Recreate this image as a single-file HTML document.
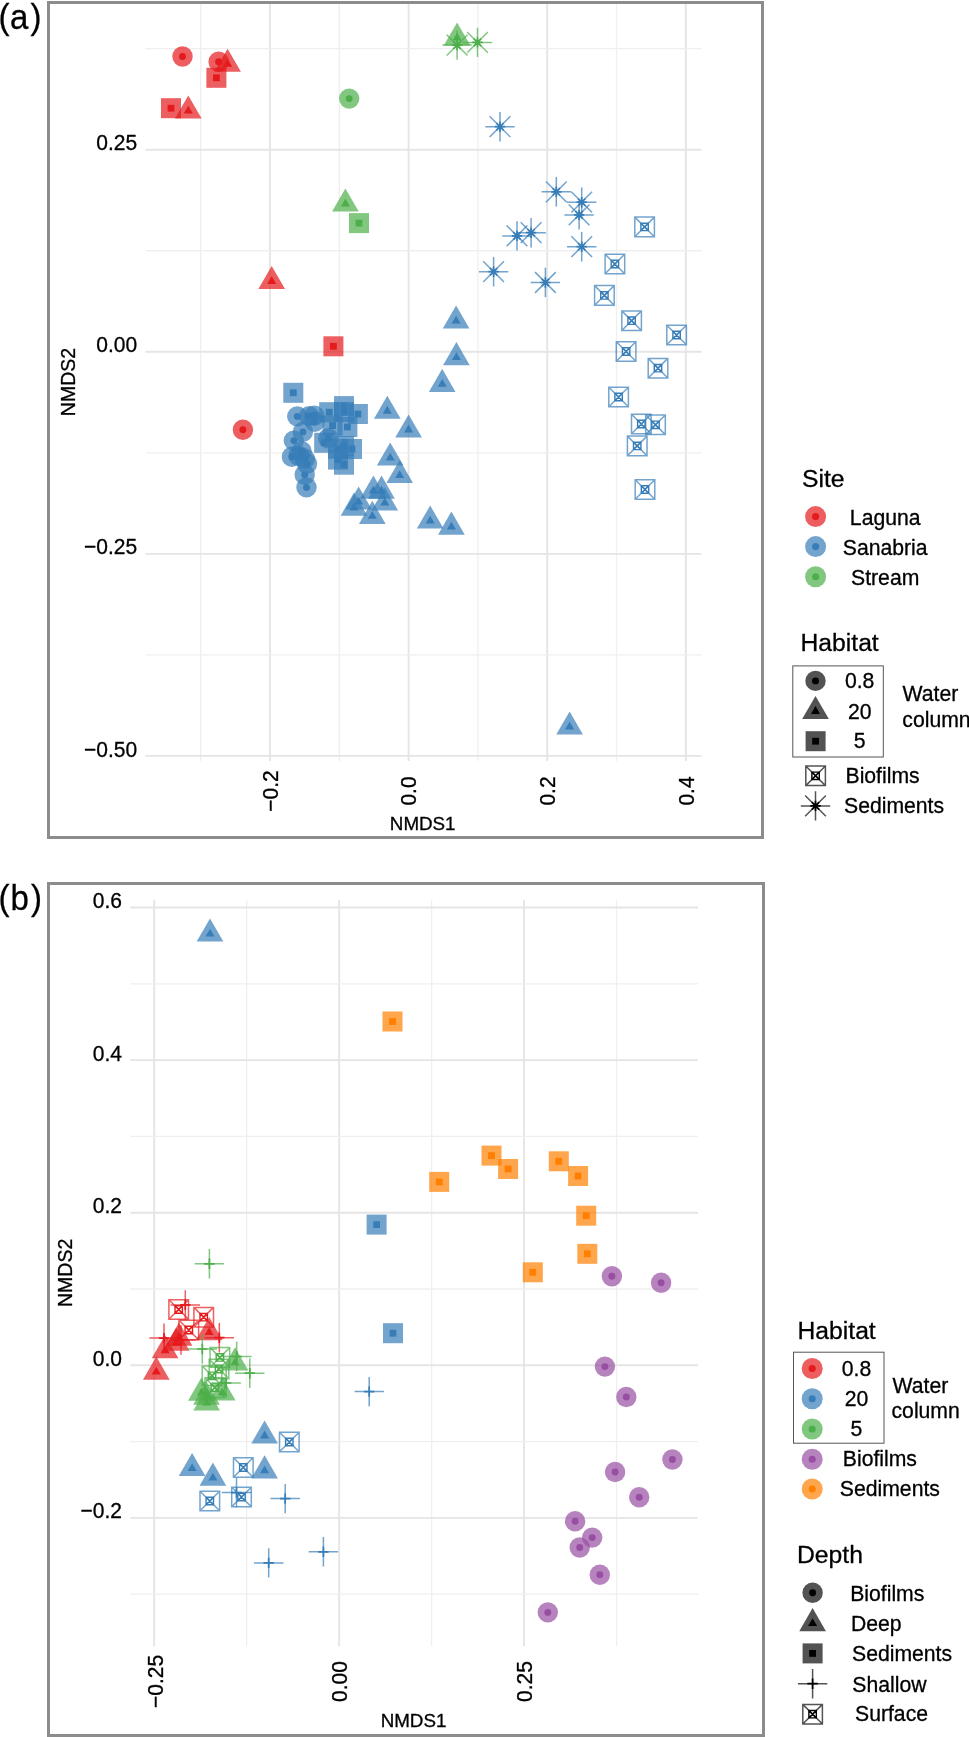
<!DOCTYPE html>
<html><head><meta charset="utf-8"><title>NMDS</title>
<style>html,body{margin:0;padding:0;background:#fff;overflow:hidden;}svg{display:block;will-change:transform;}</style>
</head><body>
<svg width="969" height="1737" viewBox="0 0 969 1737">
<rect width="969" height="1737" fill="#fff"/>
<g stroke="#ebebeb" stroke-width="1.6">
<line x1="200.7" y1="4" x2="200.7" y2="761" stroke="#efefef" stroke-width="1.3"/>
<line x1="270" y1="4" x2="270" y2="761" stroke="#e5e5e5" stroke-width="1.9"/>
<line x1="339.3" y1="4" x2="339.3" y2="761" stroke="#efefef" stroke-width="1.3"/>
<line x1="408.6" y1="4" x2="408.6" y2="761" stroke="#e5e5e5" stroke-width="1.9"/>
<line x1="477.9" y1="4" x2="477.9" y2="761" stroke="#efefef" stroke-width="1.3"/>
<line x1="547.2" y1="4" x2="547.2" y2="761" stroke="#e5e5e5" stroke-width="1.9"/>
<line x1="616.5" y1="4" x2="616.5" y2="761" stroke="#efefef" stroke-width="1.3"/>
<line x1="685.8" y1="4" x2="685.8" y2="761" stroke="#e5e5e5" stroke-width="1.9"/>
<line x1="145.5" y1="48.7" x2="701.5" y2="48.7" stroke="#efefef" stroke-width="1.3"/>
<line x1="145.5" y1="149.73" x2="701.5" y2="149.73" stroke="#e5e5e5" stroke-width="1.9"/>
<line x1="145.5" y1="250.76" x2="701.5" y2="250.76" stroke="#efefef" stroke-width="1.3"/>
<line x1="145.5" y1="351.79" x2="701.5" y2="351.79" stroke="#e5e5e5" stroke-width="1.9"/>
<line x1="145.5" y1="452.82" x2="701.5" y2="452.82" stroke="#efefef" stroke-width="1.3"/>
<line x1="145.5" y1="553.85" x2="701.5" y2="553.85" stroke="#e5e5e5" stroke-width="1.9"/>
<line x1="145.5" y1="654.88" x2="701.5" y2="654.88" stroke="#efefef" stroke-width="1.3"/>
<line x1="145.5" y1="755.91" x2="701.5" y2="755.91" stroke="#e5e5e5" stroke-width="1.9"/>
<line x1="154.2" y1="900" x2="154.2" y2="1646.2" stroke="#e5e5e5" stroke-width="1.9"/>
<line x1="246.67" y1="900" x2="246.67" y2="1646.2" stroke="#efefef" stroke-width="1.3"/>
<line x1="339.14" y1="900" x2="339.14" y2="1646.2" stroke="#e5e5e5" stroke-width="1.9"/>
<line x1="431.61" y1="900" x2="431.61" y2="1646.2" stroke="#efefef" stroke-width="1.3"/>
<line x1="524.08" y1="900" x2="524.08" y2="1646.2" stroke="#e5e5e5" stroke-width="1.9"/>
<line x1="616.55" y1="900" x2="616.55" y2="1646.2" stroke="#efefef" stroke-width="1.3"/>
<line x1="130.3" y1="907.5" x2="698" y2="907.5" stroke="#e5e5e5" stroke-width="1.9"/>
<line x1="130.3" y1="983.8" x2="698" y2="983.8" stroke="#efefef" stroke-width="1.3"/>
<line x1="130.3" y1="1060.1" x2="698" y2="1060.1" stroke="#e5e5e5" stroke-width="1.9"/>
<line x1="130.3" y1="1136.4" x2="698" y2="1136.4" stroke="#efefef" stroke-width="1.3"/>
<line x1="130.3" y1="1212.7" x2="698" y2="1212.7" stroke="#e5e5e5" stroke-width="1.9"/>
<line x1="130.3" y1="1289" x2="698" y2="1289" stroke="#efefef" stroke-width="1.3"/>
<line x1="130.3" y1="1365.3" x2="698" y2="1365.3" stroke="#e5e5e5" stroke-width="1.9"/>
<line x1="130.3" y1="1441.6" x2="698" y2="1441.6" stroke="#efefef" stroke-width="1.3"/>
<line x1="130.3" y1="1517.9" x2="698" y2="1517.9" stroke="#e5e5e5" stroke-width="1.9"/>
<line x1="130.3" y1="1594.2" x2="698" y2="1594.2" stroke="#efefef" stroke-width="1.3"/>
</g>
<g>
<circle cx="182.5" cy="56.5" r="10.2" fill="#E41A1C" fill-opacity="0.7"/>
<circle cx="218.6" cy="61.7" r="10.2" fill="#E41A1C" fill-opacity="0.7"/>
<polygon points="227.6,48.7 240.94,71.8 214.26,71.8" fill="#E41A1C" fill-opacity="0.7"/>
<rect x="206.4" y="67.8" width="20" height="20" fill="#E41A1C" fill-opacity="0.7"/>
<rect x="161" y="98.2" width="20" height="20" fill="#E41A1C" fill-opacity="0.7"/>
<polygon points="188.3,95.5 201.64,118.6 174.96,118.6" fill="#E41A1C" fill-opacity="0.7"/>
<polygon points="271.7,266 285.04,289.1 258.36,289.1" fill="#E41A1C" fill-opacity="0.7"/>
<rect x="323.4" y="336.3" width="20" height="20" fill="#E41A1C" fill-opacity="0.7"/>
<circle cx="242.9" cy="429.7" r="10.2" fill="#E41A1C" fill-opacity="0.7"/>
<polygon points="457.1,22.5 470.44,45.6 443.76,45.6" fill="#4DAF4A" fill-opacity="0.7"/>
<path d="M442.4 45.1H471.8M457.1 30.4V59.8M446.71 34.71L467.49 55.49M446.71 55.49L467.49 34.71" fill="none" stroke="#4DAF4A" stroke-width="1.5" stroke-opacity="0.7"/>
<path d="M462.8 42.4H492.2M477.5 27.7V57.1M467.11 32.01L487.89 52.79M467.11 52.79L487.89 32.01" fill="none" stroke="#4DAF4A" stroke-width="1.5" stroke-opacity="0.7"/>
<circle cx="349.2" cy="98.6" r="10.2" fill="#4DAF4A" fill-opacity="0.7"/>
<polygon points="345.4,188.4 358.74,211.5 332.06,211.5" fill="#4DAF4A" fill-opacity="0.7"/>
<rect x="349" y="213.1" width="20" height="20" fill="#4DAF4A" fill-opacity="0.7"/>
<circle cx="297.3" cy="416.4" r="10.2" fill="#377EB8" fill-opacity="0.7"/>
<circle cx="309.1" cy="416.1" r="10.2" fill="#377EB8" fill-opacity="0.7"/>
<circle cx="314.4" cy="415.8" r="10.2" fill="#377EB8" fill-opacity="0.7"/>
<circle cx="314.7" cy="421.8" r="10.2" fill="#377EB8" fill-opacity="0.7"/>
<circle cx="302.9" cy="431.9" r="10.2" fill="#377EB8" fill-opacity="0.7"/>
<circle cx="293.8" cy="440.6" r="10.2" fill="#377EB8" fill-opacity="0.7"/>
<circle cx="291.9" cy="456.8" r="10.2" fill="#377EB8" fill-opacity="0.7"/>
<circle cx="301.6" cy="451.2" r="10.2" fill="#377EB8" fill-opacity="0.7"/>
<circle cx="304.8" cy="458.8" r="10.2" fill="#377EB8" fill-opacity="0.7"/>
<circle cx="307" cy="463.8" r="10.2" fill="#377EB8" fill-opacity="0.7"/>
<circle cx="298.6" cy="455.7" r="10.2" fill="#377EB8" fill-opacity="0.7"/>
<circle cx="304.7" cy="474.8" r="10.2" fill="#377EB8" fill-opacity="0.7"/>
<circle cx="306.5" cy="487.4" r="10.2" fill="#377EB8" fill-opacity="0.7"/>
<circle cx="328.3" cy="438.3" r="10.2" fill="#377EB8" fill-opacity="0.7"/>
<rect x="283.3" y="382.8" width="20" height="20" fill="#377EB8" fill-opacity="0.7"/>
<rect x="319.2" y="402.2" width="20" height="20" fill="#377EB8" fill-opacity="0.7"/>
<rect x="334" y="396.1" width="20" height="20" fill="#377EB8" fill-opacity="0.7"/>
<rect x="347.9" y="404" width="20" height="20" fill="#377EB8" fill-opacity="0.7"/>
<rect x="334" y="402" width="20" height="20" fill="#377EB8" fill-opacity="0.7"/>
<rect x="337.4" y="417" width="20" height="20" fill="#377EB8" fill-opacity="0.7"/>
<rect x="322.6" y="415.6" width="20" height="20" fill="#377EB8" fill-opacity="0.7"/>
<rect x="314.2" y="432.8" width="20" height="20" fill="#377EB8" fill-opacity="0.7"/>
<rect x="328" y="438.8" width="20" height="20" fill="#377EB8" fill-opacity="0.7"/>
<rect x="334" y="436" width="20" height="20" fill="#377EB8" fill-opacity="0.7"/>
<rect x="342" y="439" width="20" height="20" fill="#377EB8" fill-opacity="0.7"/>
<rect x="328" y="449.6" width="20" height="20" fill="#377EB8" fill-opacity="0.7"/>
<rect x="334" y="454.7" width="20" height="20" fill="#377EB8" fill-opacity="0.7"/>
<polygon points="387.3,395.7 400.64,418.8 373.96,418.8" fill="#377EB8" fill-opacity="0.7"/>
<polygon points="408.6,414.4 421.94,437.5 395.26,437.5" fill="#377EB8" fill-opacity="0.7"/>
<polygon points="456.1,305.5 469.44,328.6 442.76,328.6" fill="#377EB8" fill-opacity="0.7"/>
<polygon points="456.4,342.1 469.74,365.2 443.06,365.2" fill="#377EB8" fill-opacity="0.7"/>
<polygon points="442.2,368.8 455.54,391.9 428.86,391.9" fill="#377EB8" fill-opacity="0.7"/>
<polygon points="390.2,442.5 403.54,465.6 376.86,465.6" fill="#377EB8" fill-opacity="0.7"/>
<polygon points="399.7,460 413.04,483.1 386.36,483.1" fill="#377EB8" fill-opacity="0.7"/>
<polygon points="373.4,475.6 386.74,498.7 360.06,498.7" fill="#377EB8" fill-opacity="0.7"/>
<polygon points="381.5,475.6 394.84,498.7 368.16,498.7" fill="#377EB8" fill-opacity="0.7"/>
<polygon points="358.6,486.5 371.94,509.6 345.26,509.6" fill="#377EB8" fill-opacity="0.7"/>
<polygon points="354,492.6 367.34,515.7 340.66,515.7" fill="#377EB8" fill-opacity="0.7"/>
<polygon points="372.3,500.8 385.64,523.9 358.96,523.9" fill="#377EB8" fill-opacity="0.7"/>
<polygon points="384.8,487.5 398.14,510.6 371.46,510.6" fill="#377EB8" fill-opacity="0.7"/>
<polygon points="430.2,505.5 443.54,528.6 416.86,528.6" fill="#377EB8" fill-opacity="0.7"/>
<polygon points="451.4,511.6 464.74,534.7 438.06,534.7" fill="#377EB8" fill-opacity="0.7"/>
<polygon points="569.6,711.5 582.94,734.6 556.26,734.6" fill="#377EB8" fill-opacity="0.7"/>
<path d="M485.3 126.7H514.7M500 112V141.4M489.61 116.31L510.39 137.09M489.61 137.09L510.39 116.31" fill="none" stroke="#377EB8" stroke-width="1.5" stroke-opacity="0.7"/>
<path d="M541.6 191.8H571M556.3 177.1V206.5M545.91 181.41L566.69 202.19M545.91 202.19L566.69 181.41" fill="none" stroke="#377EB8" stroke-width="1.5" stroke-opacity="0.7"/>
<path d="M567 202.2H596.4M581.7 187.5V216.9M571.31 191.81L592.09 212.59M571.31 212.59L592.09 191.81" fill="none" stroke="#377EB8" stroke-width="1.5" stroke-opacity="0.7"/>
<path d="M564.4 214.9H593.8M579.1 200.2V229.6M568.71 204.51L589.49 225.29M568.71 225.29L589.49 204.51" fill="none" stroke="#377EB8" stroke-width="1.5" stroke-opacity="0.7"/>
<path d="M502.3 235.9H531.7M517 221.2V250.6M506.61 225.51L527.39 246.29M506.61 246.29L527.39 225.51" fill="none" stroke="#377EB8" stroke-width="1.5" stroke-opacity="0.7"/>
<path d="M516.4 232.7H545.8M531.1 218V247.4M520.71 222.31L541.49 243.09M520.71 243.09L541.49 222.31" fill="none" stroke="#377EB8" stroke-width="1.5" stroke-opacity="0.7"/>
<path d="M567 246.7H596.4M581.7 232V261.4M571.31 236.31L592.09 257.09M571.31 257.09L592.09 236.31" fill="none" stroke="#377EB8" stroke-width="1.5" stroke-opacity="0.7"/>
<path d="M478.9 271.7H508.3M493.6 257V286.4M483.21 261.31L503.99 282.09M483.21 282.09L503.99 261.31" fill="none" stroke="#377EB8" stroke-width="1.5" stroke-opacity="0.7"/>
<path d="M530.7 282.5H560.1M545.4 267.8V297.2M535.01 272.11L555.79 292.89M535.01 292.89L555.79 272.11" fill="none" stroke="#377EB8" stroke-width="1.5" stroke-opacity="0.7"/>
<path d="M634.8 217.1H654.4V236.7H634.8ZM634.8 217.1L654.4 236.7M634.8 236.7L654.4 217.1" fill="none" stroke="#377EB8" stroke-width="1.5" stroke-opacity="0.7"/>
<path d="M605.1 254.2H624.7V273.8H605.1ZM605.1 254.2L624.7 273.8M605.1 273.8L624.7 254.2" fill="none" stroke="#377EB8" stroke-width="1.5" stroke-opacity="0.7"/>
<path d="M594.6 285.6H614.2V305.2H594.6ZM594.6 285.6L614.2 305.2M594.6 305.2L614.2 285.6" fill="none" stroke="#377EB8" stroke-width="1.5" stroke-opacity="0.7"/>
<path d="M621.8 310.9H641.4V330.5H621.8ZM621.8 310.9L641.4 330.5M621.8 330.5L641.4 310.9" fill="none" stroke="#377EB8" stroke-width="1.5" stroke-opacity="0.7"/>
<path d="M666.8 325.2H686.4V344.8H666.8ZM666.8 325.2L686.4 344.8M666.8 344.8L686.4 325.2" fill="none" stroke="#377EB8" stroke-width="1.5" stroke-opacity="0.7"/>
<path d="M616.3 341.7H635.9V361.3H616.3ZM616.3 341.7L635.9 361.3M616.3 361.3L635.9 341.7" fill="none" stroke="#377EB8" stroke-width="1.5" stroke-opacity="0.7"/>
<path d="M648.2 358.4H667.8V378H648.2ZM648.2 358.4L667.8 378M648.2 378L667.8 358.4" fill="none" stroke="#377EB8" stroke-width="1.5" stroke-opacity="0.7"/>
<path d="M608.8 387.2H628.4V406.8H608.8ZM608.8 387.2L628.4 406.8M608.8 406.8L628.4 387.2" fill="none" stroke="#377EB8" stroke-width="1.5" stroke-opacity="0.7"/>
<path d="M631.5 414.2H651.1V433.8H631.5ZM631.5 414.2L651.1 433.8M631.5 433.8L651.1 414.2" fill="none" stroke="#377EB8" stroke-width="1.5" stroke-opacity="0.7"/>
<path d="M645.7 415H665.3V434.6H645.7ZM645.7 415L665.3 434.6M645.7 434.6L665.3 415" fill="none" stroke="#377EB8" stroke-width="1.5" stroke-opacity="0.7"/>
<path d="M627.4 436.1H647V455.7H627.4ZM627.4 436.1L647 455.7M627.4 455.7L647 436.1" fill="none" stroke="#377EB8" stroke-width="1.5" stroke-opacity="0.7"/>
<path d="M635.2 479.7H654.8V499.3H635.2ZM635.2 479.7L654.8 499.3M635.2 499.3L654.8 479.7" fill="none" stroke="#377EB8" stroke-width="1.5" stroke-opacity="0.7"/>
<circle cx="182.5" cy="56.5" r="3.47" fill="#E41A1C"/>
<circle cx="218.6" cy="61.7" r="3.47" fill="#E41A1C"/>
<polygon points="227.6,58.86 232.13,66.72 223.07,66.72" fill="#E41A1C"/>
<rect x="213" y="74.4" width="6.8" height="6.8" fill="#E41A1C"/>
<rect x="167.6" y="104.8" width="6.8" height="6.8" fill="#E41A1C"/>
<polygon points="188.3,105.66 192.83,113.52 183.77,113.52" fill="#E41A1C"/>
<polygon points="271.7,276.16 276.23,284.02 267.17,284.02" fill="#E41A1C"/>
<rect x="330" y="342.9" width="6.8" height="6.8" fill="#E41A1C"/>
<circle cx="242.9" cy="429.7" r="3.47" fill="#E41A1C"/>
<polygon points="457.1,32.66 461.63,40.52 452.57,40.52" fill="#4DAF4A"/>
<path d="M451.9 45.1H462.3M457.1 39.9V50.3M453.42 41.42L460.78 48.78M453.42 48.78L460.78 41.42" fill="none" stroke="#4DAF4A" stroke-width="1.7" stroke-opacity="1"/>
<path d="M472.3 42.4H482.7M477.5 37.2V47.6M473.82 38.72L481.18 46.08M473.82 46.08L481.18 38.72" fill="none" stroke="#4DAF4A" stroke-width="1.7" stroke-opacity="1"/>
<circle cx="349.2" cy="98.6" r="3.47" fill="#4DAF4A"/>
<polygon points="345.4,198.56 349.93,206.42 340.87,206.42" fill="#4DAF4A"/>
<rect x="355.6" y="219.7" width="6.8" height="6.8" fill="#4DAF4A"/>
<circle cx="297.3" cy="416.4" r="3.47" fill="#377EB8"/>
<circle cx="309.1" cy="416.1" r="3.47" fill="#377EB8"/>
<circle cx="314.4" cy="415.8" r="3.47" fill="#377EB8"/>
<circle cx="314.7" cy="421.8" r="3.47" fill="#377EB8"/>
<circle cx="302.9" cy="431.9" r="3.47" fill="#377EB8"/>
<circle cx="293.8" cy="440.6" r="3.47" fill="#377EB8"/>
<circle cx="291.9" cy="456.8" r="3.47" fill="#377EB8"/>
<circle cx="301.6" cy="451.2" r="3.47" fill="#377EB8"/>
<circle cx="304.8" cy="458.8" r="3.47" fill="#377EB8"/>
<circle cx="307" cy="463.8" r="3.47" fill="#377EB8"/>
<circle cx="298.6" cy="455.7" r="3.47" fill="#377EB8"/>
<circle cx="304.7" cy="474.8" r="3.47" fill="#377EB8"/>
<circle cx="306.5" cy="487.4" r="3.47" fill="#377EB8"/>
<circle cx="328.3" cy="438.3" r="3.47" fill="#377EB8"/>
<rect x="289.9" y="389.4" width="6.8" height="6.8" fill="#377EB8"/>
<rect x="325.8" y="408.8" width="6.8" height="6.8" fill="#377EB8"/>
<rect x="340.6" y="402.7" width="6.8" height="6.8" fill="#377EB8"/>
<rect x="354.5" y="410.6" width="6.8" height="6.8" fill="#377EB8"/>
<rect x="340.6" y="408.6" width="6.8" height="6.8" fill="#377EB8"/>
<rect x="344" y="423.6" width="6.8" height="6.8" fill="#377EB8"/>
<rect x="329.2" y="422.2" width="6.8" height="6.8" fill="#377EB8"/>
<rect x="320.8" y="439.4" width="6.8" height="6.8" fill="#377EB8"/>
<rect x="334.6" y="445.4" width="6.8" height="6.8" fill="#377EB8"/>
<rect x="340.6" y="442.6" width="6.8" height="6.8" fill="#377EB8"/>
<rect x="348.6" y="445.6" width="6.8" height="6.8" fill="#377EB8"/>
<rect x="334.6" y="456.2" width="6.8" height="6.8" fill="#377EB8"/>
<rect x="340.6" y="461.3" width="6.8" height="6.8" fill="#377EB8"/>
<polygon points="387.3,405.86 391.83,413.72 382.77,413.72" fill="#377EB8"/>
<polygon points="408.6,424.56 413.13,432.42 404.07,432.42" fill="#377EB8"/>
<polygon points="456.1,315.66 460.63,323.52 451.57,323.52" fill="#377EB8"/>
<polygon points="456.4,352.26 460.93,360.12 451.87,360.12" fill="#377EB8"/>
<polygon points="442.2,378.96 446.73,386.82 437.67,386.82" fill="#377EB8"/>
<polygon points="390.2,452.66 394.73,460.52 385.67,460.52" fill="#377EB8"/>
<polygon points="399.7,470.16 404.23,478.02 395.17,478.02" fill="#377EB8"/>
<polygon points="373.4,485.76 377.93,493.62 368.87,493.62" fill="#377EB8"/>
<polygon points="381.5,485.76 386.03,493.62 376.97,493.62" fill="#377EB8"/>
<polygon points="358.6,496.66 363.13,504.52 354.07,504.52" fill="#377EB8"/>
<polygon points="354,502.76 358.53,510.62 349.47,510.62" fill="#377EB8"/>
<polygon points="372.3,510.96 376.83,518.82 367.77,518.82" fill="#377EB8"/>
<polygon points="384.8,497.66 389.33,505.52 380.27,505.52" fill="#377EB8"/>
<polygon points="430.2,515.66 434.73,523.52 425.67,523.52" fill="#377EB8"/>
<polygon points="451.4,521.76 455.93,529.62 446.87,529.62" fill="#377EB8"/>
<polygon points="569.6,721.66 574.13,729.52 565.07,729.52" fill="#377EB8"/>
<path d="M494.8 126.7H505.2M500 121.5V131.9M496.32 123.02L503.68 130.38M496.32 130.38L503.68 123.02" fill="none" stroke="#377EB8" stroke-width="1.7" stroke-opacity="1"/>
<path d="M551.1 191.8H561.5M556.3 186.6V197M552.62 188.12L559.98 195.48M552.62 195.48L559.98 188.12" fill="none" stroke="#377EB8" stroke-width="1.7" stroke-opacity="1"/>
<path d="M576.5 202.2H586.9M581.7 197V207.4M578.02 198.52L585.38 205.88M578.02 205.88L585.38 198.52" fill="none" stroke="#377EB8" stroke-width="1.7" stroke-opacity="1"/>
<path d="M573.9 214.9H584.3M579.1 209.7V220.1M575.42 211.22L582.78 218.58M575.42 218.58L582.78 211.22" fill="none" stroke="#377EB8" stroke-width="1.7" stroke-opacity="1"/>
<path d="M511.8 235.9H522.2M517 230.7V241.1M513.32 232.22L520.68 239.58M513.32 239.58L520.68 232.22" fill="none" stroke="#377EB8" stroke-width="1.7" stroke-opacity="1"/>
<path d="M525.9 232.7H536.3M531.1 227.5V237.9M527.42 229.02L534.78 236.38M527.42 236.38L534.78 229.02" fill="none" stroke="#377EB8" stroke-width="1.7" stroke-opacity="1"/>
<path d="M576.5 246.7H586.9M581.7 241.5V251.9M578.02 243.02L585.38 250.38M578.02 250.38L585.38 243.02" fill="none" stroke="#377EB8" stroke-width="1.7" stroke-opacity="1"/>
<path d="M488.4 271.7H498.8M493.6 266.5V276.9M489.92 268.02L497.28 275.38M489.92 275.38L497.28 268.02" fill="none" stroke="#377EB8" stroke-width="1.7" stroke-opacity="1"/>
<path d="M540.2 282.5H550.6M545.4 277.3V287.7M541.72 278.82L549.08 286.18M541.72 286.18L549.08 278.82" fill="none" stroke="#377EB8" stroke-width="1.7" stroke-opacity="1"/>
<path d="M640.9 223.2H648.3V230.6H640.9ZM640.9 223.2L648.3 230.6M640.9 230.6L648.3 223.2" fill="none" stroke="#377EB8" stroke-width="1.4" stroke-opacity="1"/>
<path d="M611.2 260.3H618.6V267.7H611.2ZM611.2 260.3L618.6 267.7M611.2 267.7L618.6 260.3" fill="none" stroke="#377EB8" stroke-width="1.4" stroke-opacity="1"/>
<path d="M600.7 291.7H608.1V299.1H600.7ZM600.7 291.7L608.1 299.1M600.7 299.1L608.1 291.7" fill="none" stroke="#377EB8" stroke-width="1.4" stroke-opacity="1"/>
<path d="M627.9 317H635.3V324.4H627.9ZM627.9 317L635.3 324.4M627.9 324.4L635.3 317" fill="none" stroke="#377EB8" stroke-width="1.4" stroke-opacity="1"/>
<path d="M672.9 331.3H680.3V338.7H672.9ZM672.9 331.3L680.3 338.7M672.9 338.7L680.3 331.3" fill="none" stroke="#377EB8" stroke-width="1.4" stroke-opacity="1"/>
<path d="M622.4 347.8H629.8V355.2H622.4ZM622.4 347.8L629.8 355.2M622.4 355.2L629.8 347.8" fill="none" stroke="#377EB8" stroke-width="1.4" stroke-opacity="1"/>
<path d="M654.3 364.5H661.7V371.9H654.3ZM654.3 364.5L661.7 371.9M654.3 371.9L661.7 364.5" fill="none" stroke="#377EB8" stroke-width="1.4" stroke-opacity="1"/>
<path d="M614.9 393.3H622.3V400.7H614.9ZM614.9 393.3L622.3 400.7M614.9 400.7L622.3 393.3" fill="none" stroke="#377EB8" stroke-width="1.4" stroke-opacity="1"/>
<path d="M637.6 420.3H645V427.7H637.6ZM637.6 420.3L645 427.7M637.6 427.7L645 420.3" fill="none" stroke="#377EB8" stroke-width="1.4" stroke-opacity="1"/>
<path d="M651.8 421.1H659.2V428.5H651.8ZM651.8 421.1L659.2 428.5M651.8 428.5L659.2 421.1" fill="none" stroke="#377EB8" stroke-width="1.4" stroke-opacity="1"/>
<path d="M633.5 442.2H640.9V449.6H633.5ZM633.5 442.2L640.9 449.6M633.5 449.6L640.9 442.2" fill="none" stroke="#377EB8" stroke-width="1.4" stroke-opacity="1"/>
<path d="M641.3 485.8H648.7V493.2H641.3ZM641.3 485.8L648.7 493.2M641.3 493.2L648.7 485.8" fill="none" stroke="#377EB8" stroke-width="1.4" stroke-opacity="1"/>
<path d="M168.9 1299.7H188.5V1319.3H168.9ZM168.9 1299.7L188.5 1319.3M168.9 1319.3L188.5 1299.7" fill="none" stroke="#E41A1C" stroke-width="1.5" stroke-opacity="0.7"/>
<path d="M193.9 1307.4H213.5V1327H193.9ZM193.9 1307.4L213.5 1327M193.9 1327L213.5 1307.4" fill="none" stroke="#E41A1C" stroke-width="1.5" stroke-opacity="0.7"/>
<path d="M179 1320.2H198.6V1339.8H179ZM179 1320.2L198.6 1339.8M179 1339.8L198.6 1320.2" fill="none" stroke="#E41A1C" stroke-width="1.5" stroke-opacity="0.7"/>
<path d="M170.6 1304.9H200M185.3 1290.2V1319.6" fill="none" stroke="#E41A1C" stroke-width="1.5" stroke-opacity="0.7"/>
<path d="M149.3 1338.1H178.7M164 1323.4V1352.8" fill="none" stroke="#E41A1C" stroke-width="1.5" stroke-opacity="0.7"/>
<path d="M166.3 1340H195.7M181 1325.3V1354.7" fill="none" stroke="#E41A1C" stroke-width="1.5" stroke-opacity="0.7"/>
<path d="M204.6 1337.7H234M219.3 1323V1352.4" fill="none" stroke="#E41A1C" stroke-width="1.5" stroke-opacity="0.7"/>
<polygon points="156.3,1356.6 169.64,1379.7 142.96,1379.7" fill="#E41A1C" fill-opacity="0.7"/>
<polygon points="165.1,1335.2 178.44,1358.3 151.76,1358.3" fill="#E41A1C" fill-opacity="0.7"/>
<polygon points="176.2,1327.7 189.54,1350.8 162.86,1350.8" fill="#E41A1C" fill-opacity="0.7"/>
<polygon points="179,1322.6 192.34,1345.7 165.66,1345.7" fill="#E41A1C" fill-opacity="0.7"/>
<polygon points="209.2,1317.1 222.54,1340.2 195.86,1340.2" fill="#E41A1C" fill-opacity="0.7"/>
<path d="M194.7 1263.8H224.1M209.4 1249.1V1278.5" fill="none" stroke="#4DAF4A" stroke-width="1.5" stroke-opacity="0.7"/>
<path d="M187.6 1349H217M202.3 1334.3V1363.7" fill="none" stroke="#4DAF4A" stroke-width="1.5" stroke-opacity="0.7"/>
<path d="M222 1356.5H251.4M236.7 1341.8V1371.2" fill="none" stroke="#4DAF4A" stroke-width="1.5" stroke-opacity="0.7"/>
<path d="M235.1 1373.2H264.5M249.8 1358.5V1387.9" fill="none" stroke="#4DAF4A" stroke-width="1.5" stroke-opacity="0.7"/>
<path d="M211.5 1383H240.9M226.2 1368.3V1397.7" fill="none" stroke="#4DAF4A" stroke-width="1.5" stroke-opacity="0.7"/>
<path d="M210.1 1347.6H229.7V1367.2H210.1ZM210.1 1347.6L229.7 1367.2M210.1 1367.2L229.7 1347.6" fill="none" stroke="#4DAF4A" stroke-width="1.5" stroke-opacity="0.7"/>
<path d="M209.2 1359.2H228.8V1378.8H209.2ZM209.2 1359.2L228.8 1378.8M209.2 1378.8L228.8 1359.2" fill="none" stroke="#4DAF4A" stroke-width="1.5" stroke-opacity="0.7"/>
<path d="M202.2 1366H221.8V1385.6H202.2ZM202.2 1366L221.8 1385.6M202.2 1385.6L221.8 1366" fill="none" stroke="#4DAF4A" stroke-width="1.5" stroke-opacity="0.7"/>
<path d="M205 1377.8H224.6V1397.4H205ZM205 1377.8L224.6 1397.4M205 1397.4L224.6 1377.8" fill="none" stroke="#4DAF4A" stroke-width="1.5" stroke-opacity="0.7"/>
<polygon points="235,1347.3 248.34,1370.4 221.66,1370.4" fill="#4DAF4A" fill-opacity="0.7"/>
<polygon points="201.4,1377.6 214.74,1400.7 188.06,1400.7" fill="#4DAF4A" fill-opacity="0.7"/>
<polygon points="206.5,1381.6 219.84,1404.7 193.16,1404.7" fill="#4DAF4A" fill-opacity="0.7"/>
<polygon points="206.7,1387.5 220.04,1410.6 193.36,1410.6" fill="#4DAF4A" fill-opacity="0.7"/>
<polygon points="222.3,1377.5 235.64,1400.6 208.96,1400.6" fill="#4DAF4A" fill-opacity="0.7"/>
<polygon points="210,918.5 223.34,941.6 196.66,941.6" fill="#377EB8" fill-opacity="0.7"/>
<rect x="366.6" y="1214.6" width="20" height="20" fill="#377EB8" fill-opacity="0.7"/>
<rect x="383" y="1323.2" width="20" height="20" fill="#377EB8" fill-opacity="0.7"/>
<polygon points="264.6,1420.4 277.94,1443.5 251.26,1443.5" fill="#377EB8" fill-opacity="0.7"/>
<polygon points="192.1,1453 205.44,1476.1 178.76,1476.1" fill="#377EB8" fill-opacity="0.7"/>
<polygon points="212.9,1462.6 226.24,1485.7 199.56,1485.7" fill="#377EB8" fill-opacity="0.7"/>
<polygon points="264.6,1455.3 277.94,1478.4 251.26,1478.4" fill="#377EB8" fill-opacity="0.7"/>
<path d="M279.5 1432.2H299.1V1451.8H279.5ZM279.5 1432.2L299.1 1451.8M279.5 1451.8L299.1 1432.2" fill="none" stroke="#377EB8" stroke-width="1.5" stroke-opacity="0.7"/>
<path d="M233.5 1457.7H253.1V1477.3H233.5ZM233.5 1457.7L253.1 1477.3M233.5 1477.3L253.1 1457.7" fill="none" stroke="#377EB8" stroke-width="1.5" stroke-opacity="0.7"/>
<path d="M231.7 1487.2H251.3V1506.8H231.7ZM231.7 1487.2L251.3 1506.8M231.7 1506.8L251.3 1487.2" fill="none" stroke="#377EB8" stroke-width="1.5" stroke-opacity="0.7"/>
<path d="M200 1491.2H219.6V1510.8H200ZM200 1491.2L219.6 1510.8M200 1510.8L219.6 1491.2" fill="none" stroke="#377EB8" stroke-width="1.5" stroke-opacity="0.7"/>
<path d="M270.5 1498.6H299.9M285.2 1483.9V1513.3" fill="none" stroke="#377EB8" stroke-width="1.5" stroke-opacity="0.7"/>
<path d="M221.8 1492.6H251.2M236.5 1477.9V1507.3" fill="none" stroke="#377EB8" stroke-width="1.5" stroke-opacity="0.7"/>
<path d="M254 1562.9H283.4M268.7 1548.2V1577.6" fill="none" stroke="#377EB8" stroke-width="1.5" stroke-opacity="0.7"/>
<path d="M354.5 1391.6H383.9M369.2 1376.9V1406.3" fill="none" stroke="#377EB8" stroke-width="1.5" stroke-opacity="0.7"/>
<path d="M308.7 1551.8H338.1M323.4 1537.1V1566.5" fill="none" stroke="#377EB8" stroke-width="1.5" stroke-opacity="0.7"/>
<rect x="382.5" y="1011.5" width="20" height="20" fill="#FF7F00" fill-opacity="0.7"/>
<rect x="429.2" y="1171.9" width="20" height="20" fill="#FF7F00" fill-opacity="0.7"/>
<rect x="481.5" y="1145.6" width="20" height="20" fill="#FF7F00" fill-opacity="0.7"/>
<rect x="498.1" y="1159" width="20" height="20" fill="#FF7F00" fill-opacity="0.7"/>
<rect x="548.8" y="1151.3" width="20" height="20" fill="#FF7F00" fill-opacity="0.7"/>
<rect x="568.1" y="1166" width="20" height="20" fill="#FF7F00" fill-opacity="0.7"/>
<rect x="576.2" y="1205.7" width="20" height="20" fill="#FF7F00" fill-opacity="0.7"/>
<rect x="577.3" y="1243.8" width="20" height="20" fill="#FF7F00" fill-opacity="0.7"/>
<rect x="522.8" y="1262.3" width="20" height="20" fill="#FF7F00" fill-opacity="0.7"/>
<circle cx="611.9" cy="1276.2" r="10.2" fill="#984EA3" fill-opacity="0.7"/>
<circle cx="661.1" cy="1282.8" r="10.2" fill="#984EA3" fill-opacity="0.7"/>
<circle cx="604.9" cy="1366.6" r="10.2" fill="#984EA3" fill-opacity="0.7"/>
<circle cx="626.3" cy="1397" r="10.2" fill="#984EA3" fill-opacity="0.7"/>
<circle cx="672.4" cy="1459.5" r="10.2" fill="#984EA3" fill-opacity="0.7"/>
<circle cx="615.1" cy="1472" r="10.2" fill="#984EA3" fill-opacity="0.7"/>
<circle cx="639.2" cy="1497.2" r="10.2" fill="#984EA3" fill-opacity="0.7"/>
<circle cx="575.1" cy="1521.2" r="10.2" fill="#984EA3" fill-opacity="0.7"/>
<circle cx="592.2" cy="1537.6" r="10.2" fill="#984EA3" fill-opacity="0.7"/>
<circle cx="579.7" cy="1547.5" r="10.2" fill="#984EA3" fill-opacity="0.7"/>
<circle cx="599.8" cy="1574.8" r="10.2" fill="#984EA3" fill-opacity="0.7"/>
<circle cx="547.8" cy="1612.4" r="10.2" fill="#984EA3" fill-opacity="0.7"/>
<path d="M175 1305.8H182.4V1313.2H175ZM175 1305.8L182.4 1313.2M175 1313.2L182.4 1305.8" fill="none" stroke="#E41A1C" stroke-width="1.4" stroke-opacity="1"/>
<path d="M200 1313.5H207.4V1320.9H200ZM200 1313.5L207.4 1320.9M200 1320.9L207.4 1313.5" fill="none" stroke="#E41A1C" stroke-width="1.4" stroke-opacity="1"/>
<path d="M185.1 1326.3H192.5V1333.7H185.1ZM185.1 1326.3L192.5 1333.7M185.1 1333.7L192.5 1326.3" fill="none" stroke="#E41A1C" stroke-width="1.4" stroke-opacity="1"/>
<path d="M180.1 1304.9H190.5M185.3 1299.7V1310.1" fill="none" stroke="#E41A1C" stroke-width="1.7" stroke-opacity="1"/>
<path d="M158.8 1338.1H169.2M164 1332.9V1343.3" fill="none" stroke="#E41A1C" stroke-width="1.7" stroke-opacity="1"/>
<path d="M175.8 1340H186.2M181 1334.8V1345.2" fill="none" stroke="#E41A1C" stroke-width="1.7" stroke-opacity="1"/>
<path d="M214.1 1337.7H224.5M219.3 1332.5V1342.9" fill="none" stroke="#E41A1C" stroke-width="1.7" stroke-opacity="1"/>
<polygon points="156.3,1366.76 160.83,1374.62 151.77,1374.62" fill="#E41A1C"/>
<polygon points="165.1,1345.36 169.63,1353.22 160.57,1353.22" fill="#E41A1C"/>
<polygon points="176.2,1337.86 180.73,1345.72 171.67,1345.72" fill="#E41A1C"/>
<polygon points="179,1332.76 183.53,1340.62 174.47,1340.62" fill="#E41A1C"/>
<polygon points="209.2,1327.26 213.73,1335.12 204.67,1335.12" fill="#E41A1C"/>
<path d="M204.2 1263.8H214.6M209.4 1258.6V1269" fill="none" stroke="#4DAF4A" stroke-width="1.7" stroke-opacity="1"/>
<path d="M197.1 1349H207.5M202.3 1343.8V1354.2" fill="none" stroke="#4DAF4A" stroke-width="1.7" stroke-opacity="1"/>
<path d="M231.5 1356.5H241.9M236.7 1351.3V1361.7" fill="none" stroke="#4DAF4A" stroke-width="1.7" stroke-opacity="1"/>
<path d="M244.6 1373.2H255M249.8 1368V1378.4" fill="none" stroke="#4DAF4A" stroke-width="1.7" stroke-opacity="1"/>
<path d="M221 1383H231.4M226.2 1377.8V1388.2" fill="none" stroke="#4DAF4A" stroke-width="1.7" stroke-opacity="1"/>
<path d="M216.2 1353.7H223.6V1361.1H216.2ZM216.2 1353.7L223.6 1361.1M216.2 1361.1L223.6 1353.7" fill="none" stroke="#4DAF4A" stroke-width="1.4" stroke-opacity="1"/>
<path d="M215.3 1365.3H222.7V1372.7H215.3ZM215.3 1365.3L222.7 1372.7M215.3 1372.7L222.7 1365.3" fill="none" stroke="#4DAF4A" stroke-width="1.4" stroke-opacity="1"/>
<path d="M208.3 1372.1H215.7V1379.5H208.3ZM208.3 1372.1L215.7 1379.5M208.3 1379.5L215.7 1372.1" fill="none" stroke="#4DAF4A" stroke-width="1.4" stroke-opacity="1"/>
<path d="M211.1 1383.9H218.5V1391.3H211.1ZM211.1 1383.9L218.5 1391.3M211.1 1391.3L218.5 1383.9" fill="none" stroke="#4DAF4A" stroke-width="1.4" stroke-opacity="1"/>
<polygon points="235,1357.46 239.53,1365.32 230.47,1365.32" fill="#4DAF4A"/>
<polygon points="201.4,1387.76 205.93,1395.62 196.87,1395.62" fill="#4DAF4A"/>
<polygon points="206.5,1391.76 211.03,1399.62 201.97,1399.62" fill="#4DAF4A"/>
<polygon points="206.7,1397.66 211.23,1405.52 202.17,1405.52" fill="#4DAF4A"/>
<polygon points="222.3,1387.66 226.83,1395.52 217.77,1395.52" fill="#4DAF4A"/>
<polygon points="210,928.66 214.53,936.52 205.47,936.52" fill="#377EB8"/>
<rect x="373.2" y="1221.2" width="6.8" height="6.8" fill="#377EB8"/>
<rect x="389.6" y="1329.8" width="6.8" height="6.8" fill="#377EB8"/>
<polygon points="264.6,1430.56 269.13,1438.42 260.07,1438.42" fill="#377EB8"/>
<polygon points="192.1,1463.16 196.63,1471.02 187.57,1471.02" fill="#377EB8"/>
<polygon points="212.9,1472.76 217.43,1480.62 208.37,1480.62" fill="#377EB8"/>
<polygon points="264.6,1465.46 269.13,1473.32 260.07,1473.32" fill="#377EB8"/>
<path d="M285.6 1438.3H293V1445.7H285.6ZM285.6 1438.3L293 1445.7M285.6 1445.7L293 1438.3" fill="none" stroke="#377EB8" stroke-width="1.4" stroke-opacity="1"/>
<path d="M239.6 1463.8H247V1471.2H239.6ZM239.6 1463.8L247 1471.2M239.6 1471.2L247 1463.8" fill="none" stroke="#377EB8" stroke-width="1.4" stroke-opacity="1"/>
<path d="M237.8 1493.3H245.2V1500.7H237.8ZM237.8 1493.3L245.2 1500.7M237.8 1500.7L245.2 1493.3" fill="none" stroke="#377EB8" stroke-width="1.4" stroke-opacity="1"/>
<path d="M206.1 1497.3H213.5V1504.7H206.1ZM206.1 1497.3L213.5 1504.7M206.1 1504.7L213.5 1497.3" fill="none" stroke="#377EB8" stroke-width="1.4" stroke-opacity="1"/>
<path d="M280 1498.6H290.4M285.2 1493.4V1503.8" fill="none" stroke="#377EB8" stroke-width="1.7" stroke-opacity="1"/>
<path d="M231.3 1492.6H241.7M236.5 1487.4V1497.8" fill="none" stroke="#377EB8" stroke-width="1.7" stroke-opacity="1"/>
<path d="M263.5 1562.9H273.9M268.7 1557.7V1568.1" fill="none" stroke="#377EB8" stroke-width="1.7" stroke-opacity="1"/>
<path d="M364 1391.6H374.4M369.2 1386.4V1396.8" fill="none" stroke="#377EB8" stroke-width="1.7" stroke-opacity="1"/>
<path d="M318.2 1551.8H328.6M323.4 1546.6V1557" fill="none" stroke="#377EB8" stroke-width="1.7" stroke-opacity="1"/>
<rect x="389.1" y="1018.1" width="6.8" height="6.8" fill="#FF7F00"/>
<rect x="435.8" y="1178.5" width="6.8" height="6.8" fill="#FF7F00"/>
<rect x="488.1" y="1152.2" width="6.8" height="6.8" fill="#FF7F00"/>
<rect x="504.7" y="1165.6" width="6.8" height="6.8" fill="#FF7F00"/>
<rect x="555.4" y="1157.9" width="6.8" height="6.8" fill="#FF7F00"/>
<rect x="574.7" y="1172.6" width="6.8" height="6.8" fill="#FF7F00"/>
<rect x="582.8" y="1212.3" width="6.8" height="6.8" fill="#FF7F00"/>
<rect x="583.9" y="1250.4" width="6.8" height="6.8" fill="#FF7F00"/>
<rect x="529.4" y="1268.9" width="6.8" height="6.8" fill="#FF7F00"/>
<circle cx="611.9" cy="1276.2" r="3.47" fill="#984EA3"/>
<circle cx="661.1" cy="1282.8" r="3.47" fill="#984EA3"/>
<circle cx="604.9" cy="1366.6" r="3.47" fill="#984EA3"/>
<circle cx="626.3" cy="1397" r="3.47" fill="#984EA3"/>
<circle cx="672.4" cy="1459.5" r="3.47" fill="#984EA3"/>
<circle cx="615.1" cy="1472" r="3.47" fill="#984EA3"/>
<circle cx="639.2" cy="1497.2" r="3.47" fill="#984EA3"/>
<circle cx="575.1" cy="1521.2" r="3.47" fill="#984EA3"/>
<circle cx="592.2" cy="1537.6" r="3.47" fill="#984EA3"/>
<circle cx="579.7" cy="1547.5" r="3.47" fill="#984EA3"/>
<circle cx="599.8" cy="1574.8" r="3.47" fill="#984EA3"/>
<circle cx="547.8" cy="1612.4" r="3.47" fill="#984EA3"/>
</g>
<rect x="48.5" y="2.5" width="714" height="835" fill="none" stroke="#8c8c8c" stroke-width="3"/>
<rect x="48.5" y="883.5" width="715" height="852" fill="none" stroke="#8c8c8c" stroke-width="3"/>
<rect x="792.8" y="665.9" width="90.5" height="91.1" fill="none" stroke="#555" stroke-width="1"/>
<rect x="793.5" y="1352.2" width="90.5" height="91" fill="none" stroke="#555" stroke-width="1"/>
<circle cx="815.6" cy="516.6" r="10.51" fill="#E41A1C" fill-opacity="0.7"/>
<circle cx="815.6" cy="546.6" r="10.51" fill="#377EB8" fill-opacity="0.7"/>
<circle cx="815.6" cy="576.7" r="10.51" fill="#4DAF4A" fill-opacity="0.7"/>
<circle cx="815.5" cy="680.9" r="10.2" fill="#0a0a0a" fill-opacity="0.7"/>
<polygon points="815.5,695.9 828.84,719 802.16,719" fill="#0a0a0a" fill-opacity="0.7"/>
<rect x="805.6" y="731.2" width="20" height="20" fill="#0a0a0a" fill-opacity="0.7"/>
<path d="M805.8 766H825.4V785.6H805.8ZM805.8 766L825.4 785.6M805.8 785.6L825.4 766" fill="none" stroke="#0a0a0a" stroke-width="1.5" stroke-opacity="0.7"/>
<path d="M800.8 805.9H830.2M815.5 791.2V820.6M805.11 795.51L825.89 816.29M805.11 816.29L825.89 795.51" fill="none" stroke="#0a0a0a" stroke-width="1.5" stroke-opacity="0.7"/>
<circle cx="812.2" cy="1368.5" r="10.51" fill="#E41A1C" fill-opacity="0.7"/>
<circle cx="812.2" cy="1398.7" r="10.51" fill="#377EB8" fill-opacity="0.7"/>
<circle cx="812.2" cy="1429" r="10.51" fill="#4DAF4A" fill-opacity="0.7"/>
<circle cx="812.2" cy="1459.2" r="10.51" fill="#984EA3" fill-opacity="0.7"/>
<circle cx="812.2" cy="1489" r="10.51" fill="#FF7F00" fill-opacity="0.7"/>
<circle cx="812.6" cy="1592.8" r="10.2" fill="#0a0a0a" fill-opacity="0.7"/>
<polygon points="812.6,1608.1 825.94,1631.2 799.26,1631.2" fill="#0a0a0a" fill-opacity="0.7"/>
<rect x="802.6" y="1643.4" width="20" height="20" fill="#0a0a0a" fill-opacity="0.7"/>
<path d="M797.9 1683.7H827.3M812.6 1669V1698.4" fill="none" stroke="#0a0a0a" stroke-width="1.5" stroke-opacity="0.7"/>
<path d="M802.8 1704.4H822.4V1724H802.8ZM802.8 1704.4L822.4 1724M802.8 1724L822.4 1704.4" fill="none" stroke="#0a0a0a" stroke-width="1.5" stroke-opacity="0.7"/>
<circle cx="815.6" cy="516.6" r="3.57" fill="#E41A1C"/>
<circle cx="815.6" cy="546.6" r="3.57" fill="#377EB8"/>
<circle cx="815.6" cy="576.7" r="3.57" fill="#4DAF4A"/>
<circle cx="815.5" cy="680.9" r="3.47" fill="#000000"/>
<polygon points="815.5,706.06 820.03,713.92 810.97,713.92" fill="#000000"/>
<rect x="812.2" y="737.8" width="6.8" height="6.8" fill="#000000"/>
<path d="M811.9 772.1H819.3V779.5H811.9ZM811.9 772.1L819.3 779.5M811.9 779.5L819.3 772.1" fill="none" stroke="#000000" stroke-width="1.4" stroke-opacity="1"/>
<path d="M810.3 805.9H820.7M815.5 800.7V811.1M811.82 802.22L819.18 809.58M811.82 809.58L819.18 802.22" fill="none" stroke="#000000" stroke-width="1.7" stroke-opacity="1"/>
<circle cx="812.2" cy="1368.5" r="3.57" fill="#E41A1C"/>
<circle cx="812.2" cy="1398.7" r="3.57" fill="#377EB8"/>
<circle cx="812.2" cy="1429" r="3.57" fill="#4DAF4A"/>
<circle cx="812.2" cy="1459.2" r="3.57" fill="#984EA3"/>
<circle cx="812.2" cy="1489" r="3.57" fill="#FF7F00"/>
<circle cx="812.6" cy="1592.8" r="3.47" fill="#000000"/>
<polygon points="812.6,1618.26 817.13,1626.12 808.07,1626.12" fill="#000000"/>
<rect x="809.2" y="1650" width="6.8" height="6.8" fill="#000000"/>
<path d="M807.4 1683.7H817.8M812.6 1678.5V1688.9" fill="none" stroke="#000000" stroke-width="1.7" stroke-opacity="1"/>
<path d="M808.9 1710.5H816.3V1717.9H808.9ZM808.9 1710.5L816.3 1717.9M808.9 1717.9L816.3 1710.5" fill="none" stroke="#000000" stroke-width="1.4" stroke-opacity="1"/>
<g font-family="Liberation Sans, sans-serif" fill="#000" stroke="#000" stroke-width="0.3">
<text transform="translate(4.1 28.6) scale(0.93 1)" font-size="35.5" text-anchor="middle">(</text>
<text transform="translate(19.1 28.6) scale(0.93 1)" font-size="35.5" text-anchor="middle">a</text>
<text transform="translate(36.1 28.6) scale(0.93 1)" font-size="35.5" text-anchor="middle">)</text>
<text transform="translate(137.2 150.4) scale(1 1.05)" font-size="21" text-anchor="end">0.25</text>
<text transform="translate(137.2 352.3) scale(1 1.05)" font-size="21" text-anchor="end">0.00</text>
<text transform="translate(137.2 554.2) scale(1 1.05)" font-size="21" text-anchor="end">−0.25</text>
<text transform="translate(137.2 756.6) scale(1 1.05)" font-size="21" text-anchor="end">−0.50</text>
<text transform="translate(75.4 382) rotate(-90)" font-size="19.5" text-anchor="middle">NMDS2</text>
<text transform="translate(277.9 791) rotate(-90) scale(1 1.06)" font-size="21" text-anchor="middle">−0.2</text>
<text transform="translate(416.4 791) rotate(-90) scale(1 1.06)" font-size="21" text-anchor="middle">0.0</text>
<text transform="translate(555.4 791) rotate(-90) scale(1 1.06)" font-size="21" text-anchor="middle">0.2</text>
<text transform="translate(694.3 791) rotate(-90) scale(1 1.06)" font-size="21" text-anchor="middle">0.4</text>
<text x="422.7" y="830.1" font-size="18.8" text-anchor="middle">NMDS1</text>
<text x="802" y="487" font-size="24.7" text-anchor="start">Site</text>
<text x="885.2" y="524.5" font-size="21.2" text-anchor="middle">Laguna</text>
<text x="885.2" y="554.6" font-size="21.2" text-anchor="middle">Sanabria</text>
<text x="885.2" y="584.6" font-size="21.2" text-anchor="middle">Stream</text>
<text x="800.5" y="651.2" font-size="24.7" text-anchor="start">Habitat</text>
<text x="859.7" y="688.4" font-size="21.2" text-anchor="middle">0.8</text>
<text x="859.7" y="718.5" font-size="21.2" text-anchor="middle">20</text>
<text x="859.7" y="748.3" font-size="21.2" text-anchor="middle">5</text>
<text x="902.6" y="701.2" font-size="21.2" text-anchor="start">Water</text>
<text x="902.3" y="727.2" font-size="21.2" text-anchor="start">column</text>
<text x="845.5" y="782.9" font-size="21.2" text-anchor="start">Biofilms</text>
<text x="844" y="813.1" font-size="21.2" text-anchor="start">Sediments</text>
<text transform="translate(4.1 909.9) scale(0.93 1)" font-size="35.5" text-anchor="middle">(</text>
<text transform="translate(19.6 909.9) scale(0.93 1)" font-size="35.5" text-anchor="middle">b</text>
<text transform="translate(36.5 909.9) scale(0.93 1)" font-size="35.5" text-anchor="middle">)</text>
<text transform="translate(122 908.2) scale(1 1.05)" font-size="21" text-anchor="end">0.6</text>
<text transform="translate(122 1060.7) scale(1 1.05)" font-size="21" text-anchor="end">0.4</text>
<text transform="translate(122 1213) scale(1 1.05)" font-size="21" text-anchor="end">0.2</text>
<text transform="translate(122 1365.7) scale(1 1.05)" font-size="21" text-anchor="end">0.0</text>
<text transform="translate(122 1518.3) scale(1 1.05)" font-size="21" text-anchor="end">−0.2</text>
<text transform="translate(71.9 1272.9) rotate(-90)" font-size="19.5" text-anchor="middle">NMDS2</text>
<text transform="translate(162.7 1681.5) rotate(-90) scale(1 1.06)" font-size="21" text-anchor="middle">−0.25</text>
<text transform="translate(346.9 1681.5) rotate(-90) scale(1 1.06)" font-size="21" text-anchor="middle">0.00</text>
<text transform="translate(531.9 1681.5) rotate(-90) scale(1 1.06)" font-size="21" text-anchor="middle">0.25</text>
<text x="413.5" y="1726.9" font-size="18.8" text-anchor="middle">NMDS1</text>
<text x="797.5" y="1338.9" font-size="24.7" text-anchor="start">Habitat</text>
<text x="856.5" y="1375.7" font-size="21.2" text-anchor="middle">0.8</text>
<text x="856.5" y="1406" font-size="21.2" text-anchor="middle">20</text>
<text x="856.5" y="1435.8" font-size="21.2" text-anchor="middle">5</text>
<text x="892.5" y="1392.9" font-size="21.2" text-anchor="start">Water</text>
<text x="891.5" y="1418.2" font-size="21.2" text-anchor="start">column</text>
<text x="842.8" y="1466" font-size="21.2" text-anchor="start">Biofilms</text>
<text x="839.8" y="1495.7" font-size="21.2" text-anchor="start">Sediments</text>
<text x="797" y="1563.2" font-size="24.7" text-anchor="start">Depth</text>
<text x="850.2" y="1601.1" font-size="21.2" text-anchor="start">Biofilms</text>
<text x="851" y="1631.3" font-size="21.2" text-anchor="start">Deep</text>
<text x="852" y="1661.3" font-size="21.2" text-anchor="start">Sediments</text>
<text x="852.3" y="1691.6" font-size="21.2" text-anchor="start">Shallow</text>
<text x="855" y="1720.9" font-size="21.2" text-anchor="start">Surface</text>
</g>
</svg>
</body></html>
